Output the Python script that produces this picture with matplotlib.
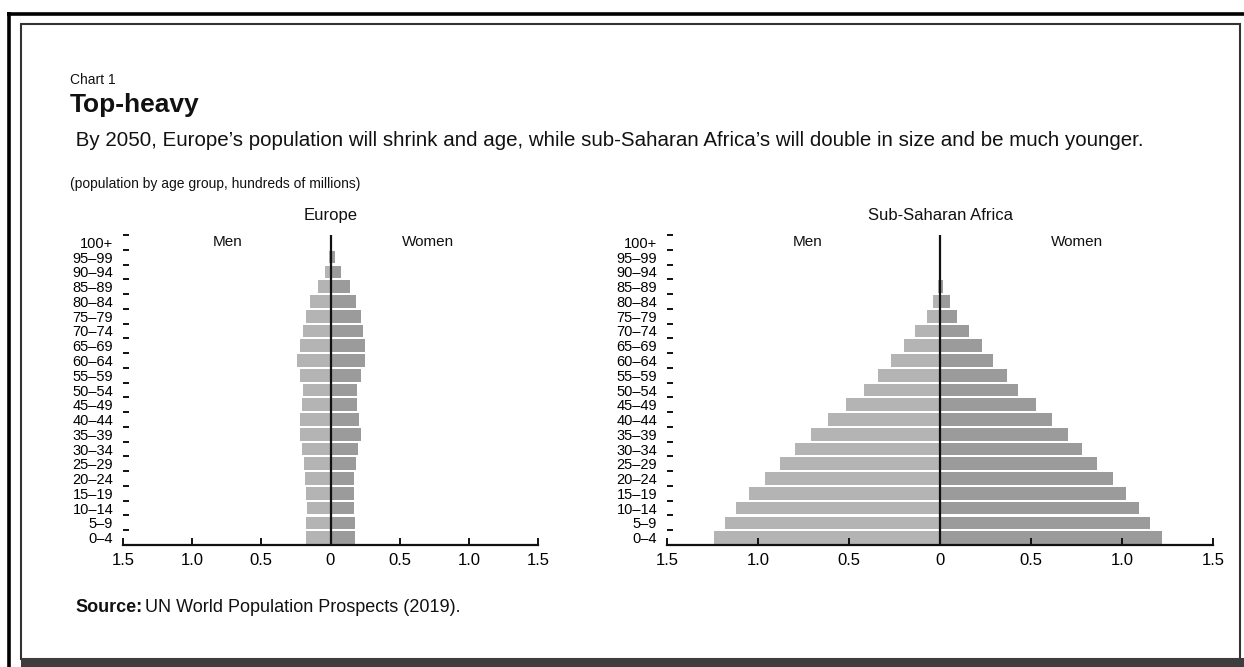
"""Population pyramids: Europe vs Sub-Saharan Africa, 2050 (Chart 1, 'Top-heavy')."""

import matplotlib
matplotlib.use("Agg")
import matplotlib.pyplot as plt
from matplotlib.lines import Line2D
from matplotlib.patches import Rectangle

plt.rcParams["font.family"] = ["Liberation Sans", "DejaVu Sans"]

W, H = 1244, 667

MEN_COLOR = "#b4b4b4"
WOMEN_COLOR = "#9b9b9b"
INK = "#111111"

AGE_GROUPS = ["0–4", "5–9", "10–14", "15–19", "20–24", "25–29", "30–34",
              "35–39", "40–44", "45–49", "50–54", "55–59", "60–64", "65–69",
              "70–74", "75–79", "80–84", "85–89", "90–94", "95–99", "100+"]

# hundreds of millions
EUROPE_MEN = [0.174, 0.174, 0.169, 0.174, 0.186, 0.193, 0.203, 0.217, 0.217,
              0.205, 0.200, 0.217, 0.241, 0.217, 0.200, 0.176, 0.145, 0.092,
              0.041, 0.012, 0.002]
EUROPE_WOMEN = [0.176, 0.176, 0.169, 0.169, 0.169, 0.181, 0.200, 0.217, 0.205,
                0.188, 0.188, 0.224, 0.246, 0.246, 0.234, 0.217, 0.181, 0.140,
                0.077, 0.031, 0.005]
AFRICA_MEN = [1.243, 1.180, 1.120, 1.050, 0.961, 0.879, 0.794, 0.711, 0.615,
              0.514, 0.418, 0.338, 0.268, 0.197, 0.136, 0.072, 0.036, 0.009,
              0.003, 0.001, 0.0]
AFRICA_WOMEN = [1.218, 1.156, 1.093, 1.024, 0.950, 0.861, 0.782, 0.702, 0.613,
                0.525, 0.431, 0.367, 0.291, 0.233, 0.161, 0.096, 0.054, 0.016,
                0.005, 0.002, 0.0]

X_TICKS = [-1.5, -1.0, -0.5, 0, 0.5, 1.0, 1.5]
X_TICK_LABELS = ["1.5", "1.0", "0.5", "0", "0.5", "1.0", "1.5"]

SUBTITLE = (" By 2050, Europe’s population will shrink and age, while sub-Saharan "
            "Africa’s will double in size and be much younger.")


def fx(x):
    return x / W


def fy(y):
    return 1 - y / H


def fit_width(fig, text, target_px):
    """Shrink/grow a text's font so it spans roughly target_px."""
    r = fig.canvas.get_renderer()
    size = text.get_fontsize()
    for _ in range(3):
        w = text.get_window_extent(renderer=r).width
        size *= target_px / w
        text.set_fontsize(size)


def pyramid(fig, box, men, women, title, men_x, women_x):
    left, top, right, bottom = box
    ax = fig.add_axes([fx(left), fy(bottom), fx(right - left), (bottom - top) / H])
    pos = list(range(len(AGE_GROUPS)))
    ax.barh(pos, [-m for m in men], height=0.86, color=MEN_COLOR, linewidth=0)
    ax.barh(pos, women, height=0.86, color=WOMEN_COLOR, linewidth=0)
    ax.axvline(0, color=INK, lw=1.6, zorder=5)

    ax.set_xlim(-1.5, 1.5)
    ax.set_ylim(-0.5, len(AGE_GROUPS) - 0.5)
    ax.set_xticks(X_TICKS)
    ax.set_xticklabels(X_TICK_LABELS, fontsize=12)
    # tick marks sit on the band boundaries, labels in the middle of each band
    ax.set_yticks([p + 0.5 for p in pos])
    ax.set_yticklabels([])
    ax.set_yticks(pos, minor=True)
    ax.set_yticklabels(AGE_GROUPS, minor=True, fontsize=10.5)
    ax.tick_params(axis="y", which="major", direction="in", length=4, width=1.4,
                   color=INK)
    ax.tick_params(axis="y", which="minor", length=0, pad=7)
    ax.tick_params(axis="x", direction="in", length=5, width=1.4, color=INK,
                   pad=6)
    for side in ("top", "right", "left"):
        ax.spines[side].set_visible(False)
    ax.spines["bottom"].set_linewidth(1.6)
    ax.spines["bottom"].set_color(INK)

    mid = (left + right) / 2
    fig.text(fx(mid), fy(top - 20), title, ha="center", va="center",
             fontsize=12, color=INK)
    fig.text(fx(men_x), fy(top + 7), "Men", ha="center", va="center",
             fontsize=11, color=INK)
    fig.text(fx(women_x), fy(top + 7), "Women", ha="center", va="center",
             fontsize=11, color=INK)
    return ax


fig = plt.figure(figsize=(W / 100, H / 100), dpi=100)
fig.patch.set_facecolor("white")

# frame: thick outer rule, thin inner box, dark band at the bottom
fig.add_artist(Line2D([fx(7), fx(W)], [fy(13.5), fy(13.5)], color="black", lw=2.6,
                      solid_capstyle="butt"))
fig.add_artist(Line2D([fx(8.5), fx(8.5)], [fy(12), fy(H)], color="black", lw=2.6,
                      solid_capstyle="butt"))
fig.add_artist(Rectangle((fx(21), fy(659)), fx(1240 - 21), (659 - 24) / H,
                         fill=False, edgecolor="#333333", lw=1.5))
fig.add_artist(Rectangle((fx(21), 0), fx(W - 21), (H - 658) / H,
                         facecolor="#3d3d3d", edgecolor="none"))

fig.text(fx(70), fy(80), "Chart 1", fontsize=10, va="center", color=INK)
fig.text(fx(70), fy(105), "Top-heavy", fontsize=19, fontweight="bold",
         va="center", color=INK)
sub = fig.text(fx(70), fy(140), SUBTITLE, fontsize=14.5, va="center", color=INK)
fig.text(fx(70), fy(184), "(population by age group, hundreds of millions)",
         fontsize=10, va="center", color=INK)

pyramid(fig, (123, 235, 538, 545), EUROPE_MEN, EUROPE_WOMEN, "Europe", 228, 428)
pyramid(fig, (667, 235, 1213, 545), AFRICA_MEN, AFRICA_WOMEN,
        "Sub-Saharan Africa", 808, 1077)

src = fig.text(fx(75), fy(608), "Source:", fontsize=13, fontweight="bold",
               va="center", color=INK)
fig.canvas.draw()
fit_width(fig, sub, 1140 - 70)
bb = src.get_window_extent(renderer=fig.canvas.get_renderer())
fig.text(bb.x1 / W + fx(3), fy(608), "UN World Population Prospects (2019).",
         fontsize=13, va="center", color=INK)

fig.savefig("out.png", dpi=100)
